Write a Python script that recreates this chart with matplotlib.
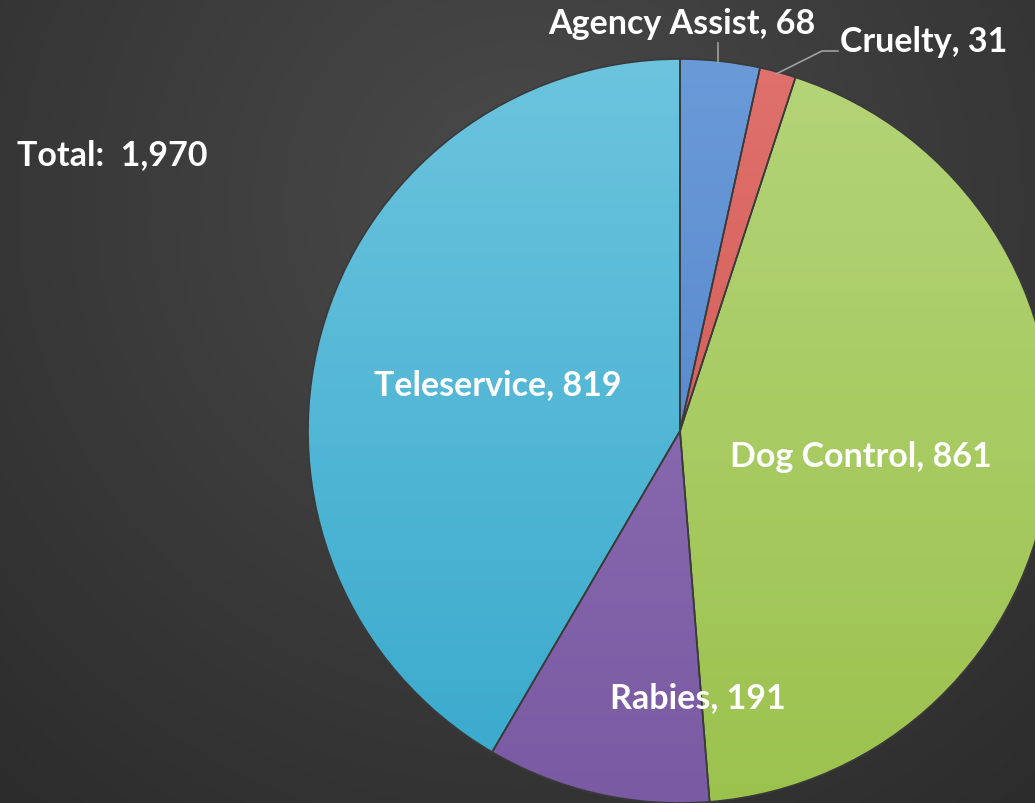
import numpy as np
import matplotlib.pyplot as plt
from matplotlib.colors import LinearSegmentedColormap

# data
labels = ['Agency Assist', 'Cruelty', 'Dog Control', 'Rabies', 'Teleservice']
values = [68, 31, 861, 191, 819]
top_colors = ['#6a9ad8', '#e0716c', '#b4d478', '#9474b9', '#6cc4de']
bot_colors = ['#4a7cc4', '#c9504c', '#9cc24e', '#7a5aa2', '#38a9cc']
total = sum(values)

W, H = 1035, 804
fig = plt.figure(figsize=(W / 100, H / 100), dpi=100)
ax = fig.add_axes([0, 0, 1, 1])

# background radial gradient
yy, xx = np.mgrid[0:H, 0:W]
d = np.sqrt((xx - 520) ** 2 + (yy - 600) ** 2) / 900
bg = np.clip(d, 0, 1)
bg_cmap = LinearSegmentedColormap.from_list('bg', ['#4a4a4a', '#2c2c2c'])
ax.imshow(bg, cmap=bg_cmap, extent=[0, W, 0, H], origin='lower', zorder=0, aspect='auto')

cx, cy, r = 680, 372, 372
wedges, _ = ax.pie(values, startangle=90, counterclock=False, center=(cx, cy), radius=r,
                   wedgeprops=dict(edgecolor='#3a3a3a', linewidth=1.2), frame=True)
ax.set_xlim(0, W)
ax.set_ylim(0, H)
ax.axis('off')

grad = np.linspace(0, 1, 256).reshape(-1, 1)
for w, tc, bc in zip(wedges, top_colors, bot_colors):
    w.set_facecolor('none')
    w.set_zorder(3)
    cm = LinearSegmentedColormap.from_list('g', [bc, tc])
    im = ax.imshow(grad, cmap=cm, extent=[cx - r, cx + r, cy - r, cy + r], origin='lower',
                   aspect='auto', zorder=2)
    im.set_clip_path(w)

font = dict(family=['Lato', 'DejaVu Sans'], weight='bold', color='white', fontsize=24.5)

def lbl(i, x, y):
    ax.text(x, H - y, f'{labels[i]}, {values[i]}', ha='center', va='center', zorder=5, **font)

lbl(0, 682, 24)
lbl(1, 924, 42)
lbl(2, 861, 457)
lbl(3, 698, 698)
lbl(4, 498, 385)

# leader lines
ax.plot([718, 718], [H - 44, H - 63], color='#a0a0a0', lw=1.2, zorder=4)
ax.plot([776, 822, 838], [H - 75, H - 52, H - 52], color='#a0a0a0', lw=1.2, zorder=4)

ax.text(17, H - 155, f'Total:  {total:,}', ha='left', va='center', zorder=5, **font)

fig.savefig('out.png', dpi=100)
